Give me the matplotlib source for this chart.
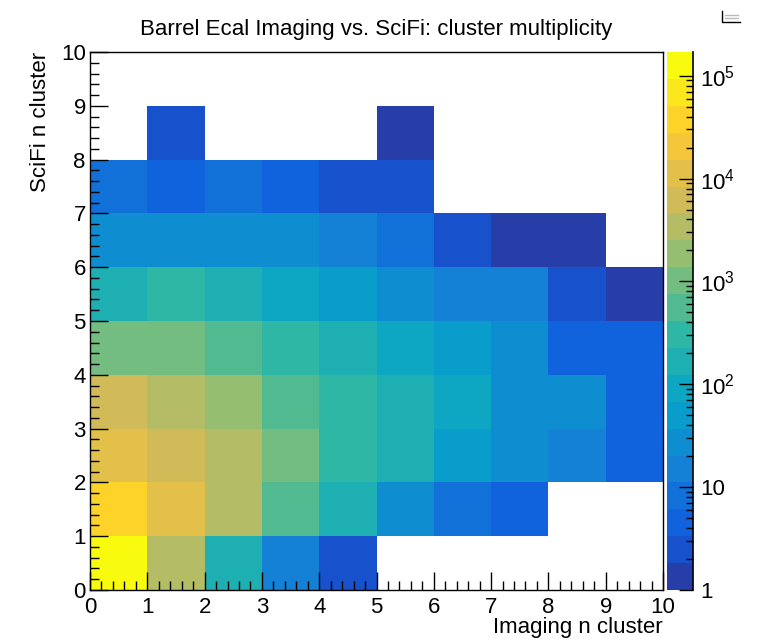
import numpy as np
import matplotlib
matplotlib.use('Agg')
import matplotlib.pyplot as plt
from matplotlib.colors import ListedColormap, LinearSegmentedColormap, LogNorm
from matplotlib.ticker import FixedLocator, FuncFormatter, MultipleLocator
from matplotlib.lines import Line2D

plt.rcParams['font.family'] = ['Liberation Sans', 'DejaVu Sans']
plt.rcParams['mathtext.fontset'] = 'custom'
plt.rcParams['mathtext.rm'] = 'Liberation Sans'
plt.rcParams['mathtext.it'] = 'Liberation Sans'

# bin edges and counts (rows = SciFi n cluster, cols = Imaging n cluster)
x_edges = np.arange(0, 11)
y_edges = np.arange(0, 11)
counts = np.array([
    [170000, 3400, 170, 15, 2, 0, 0, 0, 0, 0],
    [38000, 11000, 3300, 560, 160, 26, 8, 4, 0, 0],
    [12000, 6000, 3200, 1000, 300, 170, 50, 27, 15, 4],
    [6200, 3500, 1900, 540, 310, 165, 90, 28, 26, 4],
    [1000, 1050, 560, 300, 170, 90, 48, 27, 4, 4],
    [170, 300, 165, 92, 50, 27, 15, 14, 2, 1],
    [27, 28, 26, 27, 15, 8, 2, 1, 1, 0],
    [8, 4, 8, 5, 2, 2, 0, 0, 0, 0],
    [0, 2, 0, 0, 0, 1, 0, 0, 0, 0],
    [0, 0, 0, 0, 0, 0, 0, 0, 0, 0],
], dtype=float)
z_min, z_max = 1, 170000
n_contours = 20

# ROOT kBird palette
stops = [0.0, 0.125, 0.25, 0.375, 0.5, 0.625, 0.75, 0.875, 1.0]
red = [0.2082, 0.0592, 0.0780, 0.0232, 0.1802, 0.5301, 0.8186, 0.9956, 0.9764]
green = [0.1664, 0.3599, 0.5041, 0.6419, 0.7178, 0.7492, 0.7328, 0.7862, 0.9832]
blue = [0.5293, 0.8684, 0.8385, 0.7914, 0.6425, 0.4662, 0.3499, 0.1968, 0.0539]
bird = LinearSegmentedColormap.from_list(
    'bird', list(zip(stops, zip(red, green, blue))), N=255)
idx = [int((i + 0.99) * 255 / n_contours) for i in range(n_contours)]
cmap = ListedColormap([bird(k) for k in idx])

W, H = 763, 640
fig = plt.figure(figsize=(W / 100, H / 100), dpi=100)
x0, x1, y0, y1 = 90, 663, 52, 590
ax = fig.add_axes([x0 / W, 1 - y1 / H, (x1 - x0) / W, (y1 - y0) / H])
cax = fig.add_axes([667 / W, 1 - y1 / H, 26 / W, (y1 - y0) / H])

masked = np.ma.masked_where(counts <= 0, counts)
norm = LogNorm(vmin=z_min, vmax=z_max)
mesh = ax.pcolormesh(x_edges, y_edges, masked, cmap=cmap, norm=norm,
                     edgecolor='none', antialiased=False)
ax.set_xlim(0, 10)
ax.set_ylim(0, 10)
ax.xaxis.set_major_locator(MultipleLocator(1))
ax.xaxis.set_minor_locator(MultipleLocator(0.2))
ax.yaxis.set_major_locator(MultipleLocator(1))
ax.yaxis.set_minor_locator(MultipleLocator(0.2))
ax.tick_params(which='both', direction='in', top=False, right=False,
               labelsize=16, width=1)
ax.tick_params(which='major', length=13)
ax.tick_params(which='minor', length=6.5)
ax.tick_params(axis='x', pad=5)
ax.tick_params(axis='y', pad=3)
for s in ax.spines.values():
    s.set_linewidth(1)

cb = fig.colorbar(mesh, cax=cax)
cb.outline.set_visible(False)
cax.plot([1, 1], [0, 1], transform=cax.transAxes, color='k', lw=1.2,
         clip_on=False)
cax.yaxis.set_major_locator(FixedLocator([1, 10, 100, 1000, 1e4, 1e5]))
minors = [m * 10 ** e for e in range(0, 6) for m in range(2, 10)]
cax.yaxis.set_minor_locator(FixedLocator([v for v in minors if v < z_max]))


def zfmt(v, pos):
    e = int(round(np.log10(v)))
    if e == 0:
        return '1'
    if e == 1:
        return '10'
    return r'$\mathregular{10^{%d}}$' % e


cax.yaxis.set_major_formatter(FuncFormatter(zfmt))
cax.yaxis.set_minor_formatter(FuncFormatter(lambda v, p: ''))
cax.tick_params(which='both', direction='in', left=False, right=True,
                labelsize=16, pad=5, width=1)
cax.tick_params(which='major', length=10)
cax.tick_params(which='minor', length=5)

fig.text(376 / W, 1 - 30 / H, 'Barrel Ecal Imaging vs. SciFi: cluster multiplicity',
         ha='center', va='center', fontsize=16)
fig.text(663 / W, 1 - 627 / H, 'Imaging n cluster', ha='right', va='center',
         fontsize=16)
fig.text(40 / W, 1 - 52 / H, 'SciFi n cluster', ha='center', va='top',
         rotation=90, fontsize=16)

# collapsed stats box in the corner
fig.add_artist(Line2D([722 / W, 722 / W, 740 / W],
                      [1 - 11 / H, 1 - 22 / H, 1 - 22 / H], color='k', lw=1))
for yy in (15, 18):
    fig.add_artist(Line2D([725 / W, 738 / W], [1 - yy / H, 1 - yy / H],
                          color='#bbbbbb', lw=1))

fig.savefig('out.png', dpi=100)
